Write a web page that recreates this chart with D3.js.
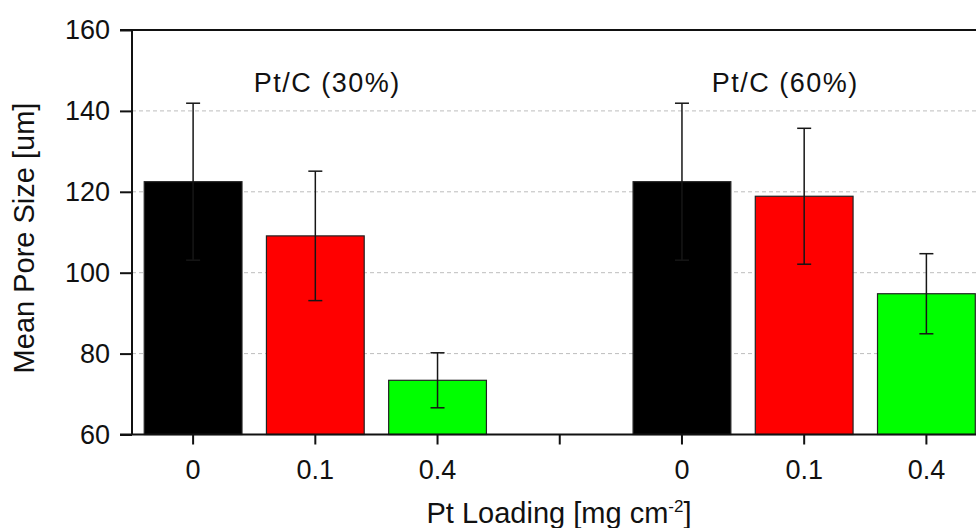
<html>
<head>
  <script src="https://d3js.org/d3.v7.min.js"></script>
  <style>
    body { margin: 0; background: #fff; }
    text { font-family: "Liberation Sans", Arial, sans-serif; fill: #111; }
  </style>
</head>
<body>
<div id="chart"></div>
<script>
// data
var loadings = ["0", "0.1", "0.4", "", "0", "0.1", "0.4"];
var meanSize = [122.5, 109.1, 73.4, null, 122.5, 118.9, 94.8];
var errSize  = [19.4, 16.0, 6.8, null, 19.4, 16.8, 9.9];
var groupNames = ["Pt/C (30%)", "Pt/C (60%)"];
var groupAt = [1, 5];            // category index each group label sits over
var yTicks = [60, 80, 100, 120, 140, 160];

var barColors = ["#000000", "#ff0000", "#00ff00", "none", "#000000", "#ff0000", "#00ff00"];

function drawChart() {
  var W = 976, H = 528;
  var mLeft = 132, mTop = 30, mBottom = 434.5, mRight = 987.5;

  var svg = d3.select("#chart").append("svg")
    .attr("width", W).attr("height", H);

  var x = d3.scaleBand()
    .domain(d3.range(loadings.length))
    .range([mLeft, mRight])
    .paddingInner(0.2)
    .paddingOuter(0.1);

  var y = d3.scaleLinear().domain([60, 160]).range([mBottom, mTop]);

  // dashed grid
  svg.append("g").selectAll("line")
    .data(yTicks.filter(function(d) { return d > 60 && d < 160; }))
    .enter().append("line")
      .attr("x1", mLeft).attr("x2", mRight)
      .attr("y1", function(d) { return y(d); })
      .attr("y2", function(d) { return y(d); })
      .attr("stroke", "#bdbdbd")
      .attr("stroke-width", 1)
      .attr("stroke-dasharray", "4,3");

  // bars
  var idx = d3.range(loadings.length).filter(function(i) { return meanSize[i] != null; });
  svg.append("g").selectAll("rect")
    .data(idx)
    .enter().append("rect")
      .attr("x", function(i) { return x(i); })
      .attr("width", x.bandwidth())
      .attr("y", function(i) { return y(meanSize[i]); })
      .attr("height", function(i) { return mBottom - y(meanSize[i]); })
      .attr("fill", function(i) { return barColors[i]; })
      .attr("stroke", "#222")
      .attr("stroke-width", 1.2);

  // error bars
  var eb = svg.append("g").attr("stroke", "#161616").attr("stroke-width", 1.5);
  idx.forEach(function(i) {
    var cx = x(i) + x.bandwidth() / 2;
    var hi = y(meanSize[i] + errSize[i]), lo = y(meanSize[i] - errSize[i]);
    eb.append("line").attr("x1", cx).attr("x2", cx).attr("y1", hi).attr("y2", lo);
    eb.append("line").attr("x1", cx - 7).attr("x2", cx + 7).attr("y1", hi).attr("y2", hi);
    eb.append("line").attr("x1", cx - 7).attr("x2", cx + 7).attr("y1", lo).attr("y2", lo);
  });

  // frame (top / right)
  svg.append("path")
    .attr("d", "M" + (mLeft - 12) + "," + mTop + "H" + mRight + "V" + mBottom)
    .attr("fill", "none").attr("stroke", "#111").attr("stroke-width", 2);

  // y axis
  var yAxis = svg.append("g")
    .attr("transform", "translate(" + mLeft + ",0)")
    .call(d3.axisLeft(y).tickValues(yTicks).tickSize(12).tickPadding(10));
  yAxis.selectAll("text").style("font-size", "27px").attr("fill", "#111");
  yAxis.selectAll("line").attr("stroke", "#111").attr("stroke-width", 2);
  yAxis.select(".domain").attr("d", "M0," + mTop + "V" + mBottom).attr("stroke", "#111").attr("stroke-width", 2);

  // x axis
  var xAxis = svg.append("g")
    .attr("transform", "translate(0," + mBottom + ")")
    .call(d3.axisBottom(x).tickSize(10).tickPadding(15)
      .tickFormat(function(i) { return loadings[i]; }));
  xAxis.selectAll("text").style("font-size", "27px").attr("fill", "#111");
  xAxis.selectAll("line").attr("stroke", "#111").attr("stroke-width", 2);
  xAxis.select(".domain").attr("d", "M" + (mLeft - 12) + ",0H" + mRight).attr("stroke", "#111").attr("stroke-width", 2);

  // group labels
  var labelShift = [12, -19];
  svg.append("g").selectAll("text")
    .data(groupNames)
    .enter().append("text")
      .attr("x", function(d, k) { return x(groupAt[k]) + x.bandwidth() / 2 + labelShift[k]; })
      .attr("y", 92)
      .attr("text-anchor", "middle")
      .style("font-size", "27px")
      .style("letter-spacing", "1.5px")
      .text(function(d) { return d; });

  // axis titles
  svg.append("text")
    .attr("transform", "translate(34,238) rotate(-90)")
    .attr("text-anchor", "middle")
    .style("font-size", "29px")
    .text("Mean Pore Size [um]");

  var xt = svg.append("text")
    .attr("x", 559).attr("y", 523)
    .attr("text-anchor", "middle")
    .style("font-size", "29px");
  xt.append("tspan").text("Pt Loading [mg cm");
  xt.append("tspan").attr("dy", -11).style("font-size", "17px").text("-2");
  xt.append("tspan").attr("dy", 11).text("]");
}

drawChart();
</script>
</body>
</html>
